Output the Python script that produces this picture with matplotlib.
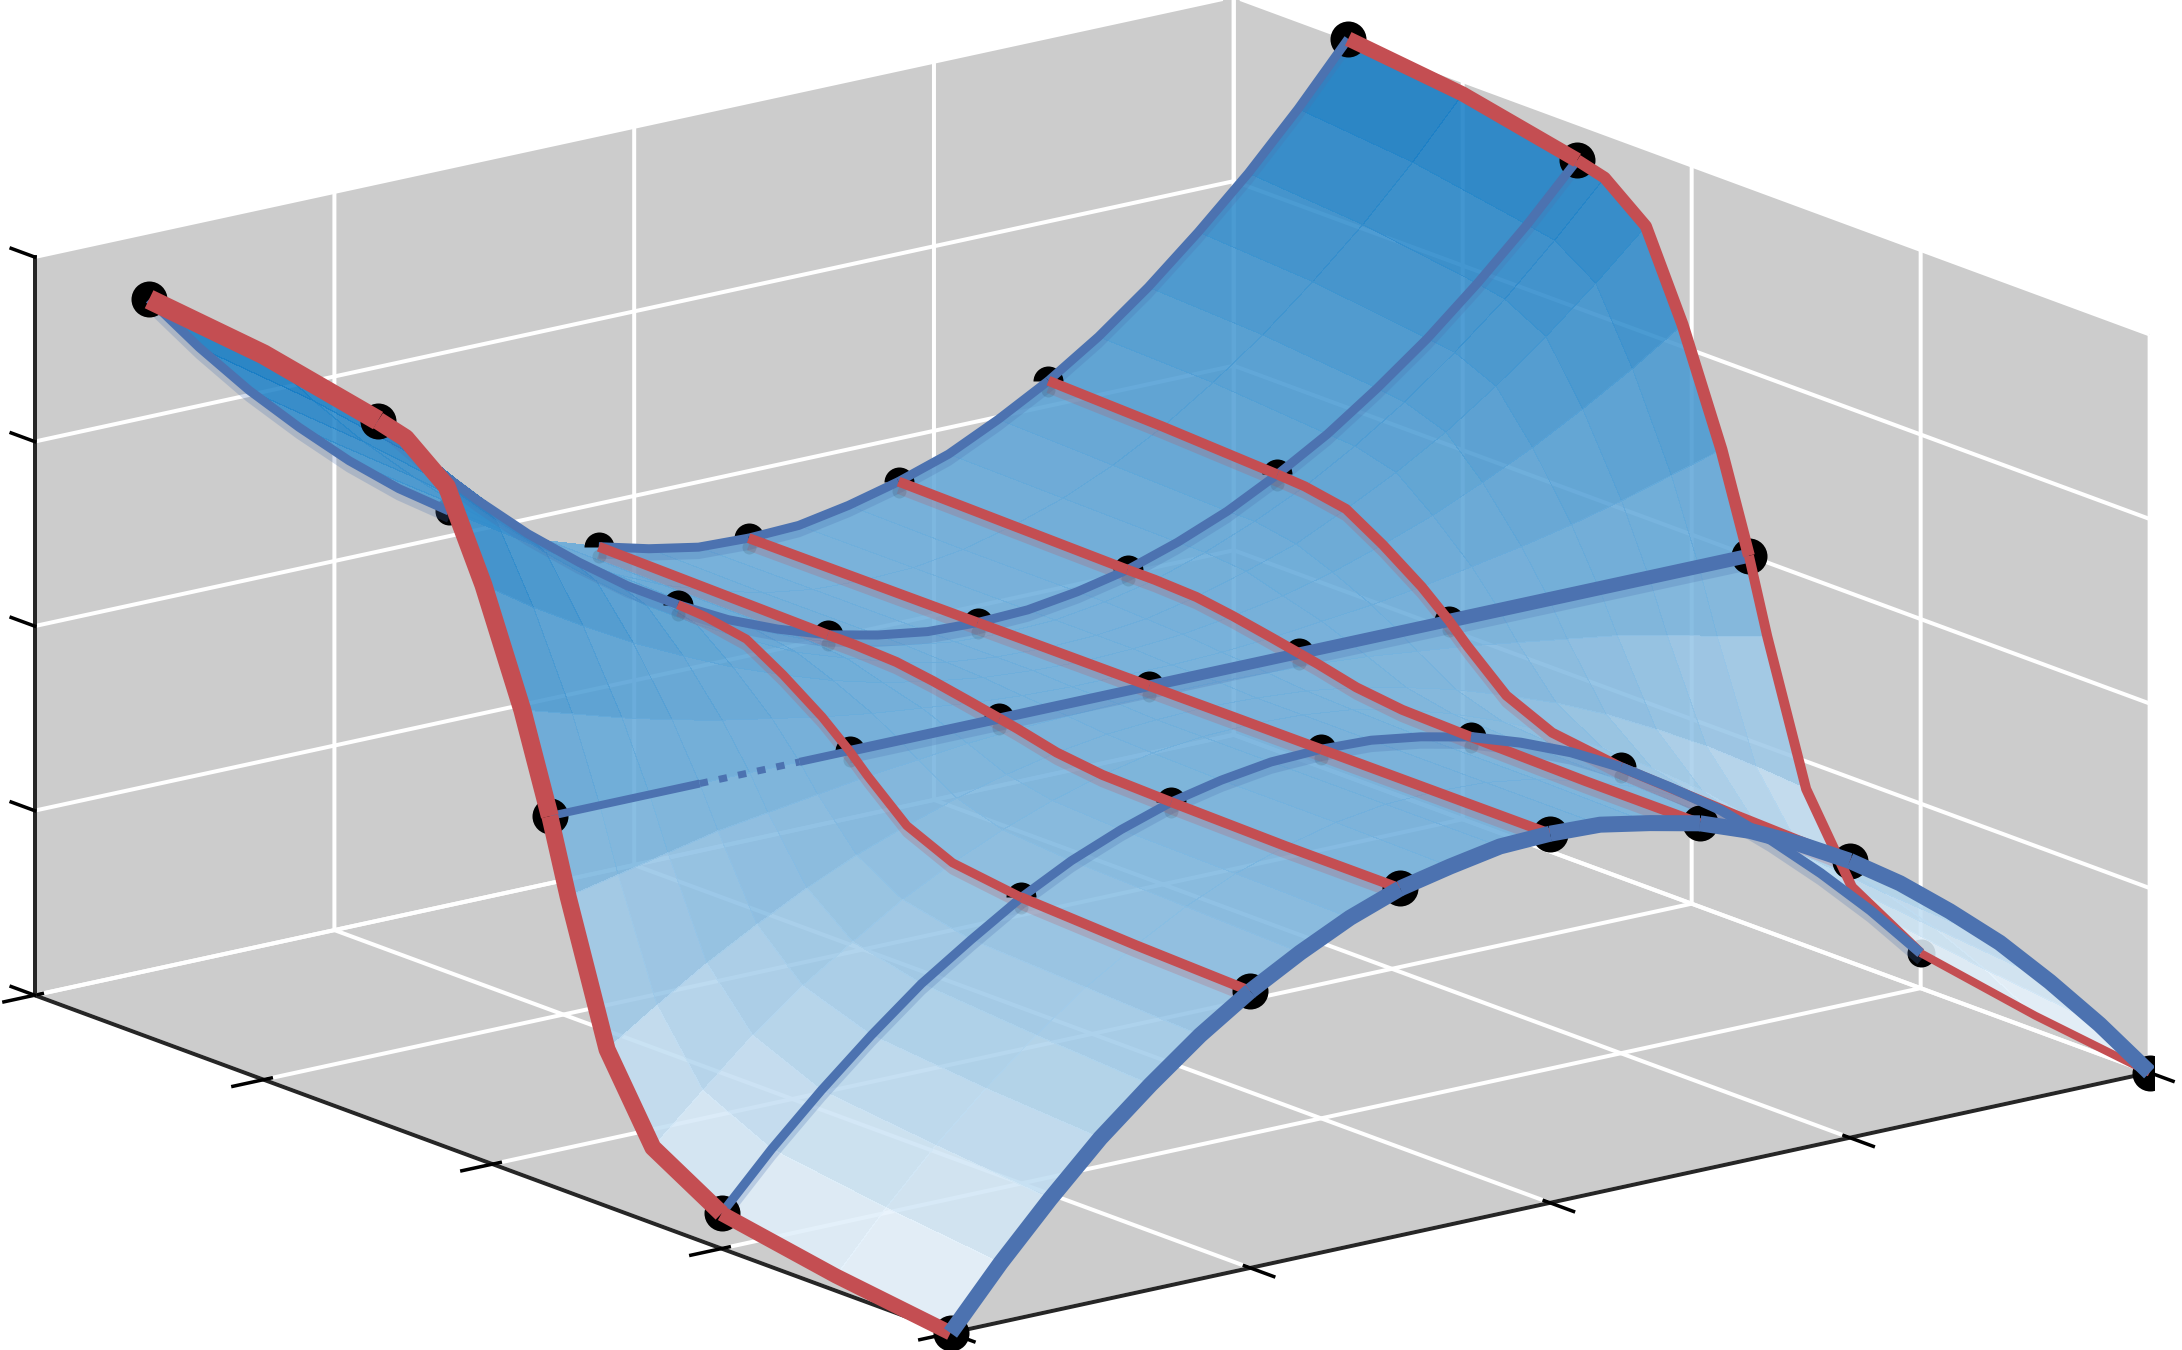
import numpy as np
import matplotlib
matplotlib.use("Agg")
import matplotlib.pyplot as plt
from matplotlib.colors import LinearSegmentedColormap
from mpl_toolkits.mplot3d import proj3d

# grid: v runs along the front-right edge, u along the front-left edge
v_grid = [0, 0.167, 0.333, 0.5, 0.667, 0.833, 1, 1.167, 1.333, 1.5, 1.667, 1.833, 2,
          2.167, 2.333, 2.5, 2.667, 2.833, 3, 3.167, 3.333, 3.5, 3.667, 3.833, 4]
u_grid = [0, 0.5, 1, 1.3, 1.5, 1.67, 1.75, 1.87, 2.04, 2.2, 2.38, 2.5, 3, 3.5]

z_u000 = [0.00, 0.32, 0.61, 0.88, 1.11, 1.32, 1.50, 1.65, 1.78, 1.88, 1.94, 1.99, 2.00,
          1.99, 1.94, 1.88, 1.78, 1.65, 1.50, 1.32, 1.11, 0.88, 0.61, 0.32, 0.00]
z_u050 = [0.08, 0.39, 0.67, 0.92, 1.15, 1.35, 1.52, 1.67, 1.79, 1.88, 1.95, 1.99, 2.00,
          1.99, 1.95, 1.88, 1.79, 1.67, 1.52, 1.35, 1.15, 0.92, 0.67, 0.39, 0.08]
z_u100 = [0.19, 0.48, 0.74, 0.98, 1.20, 1.38, 1.55, 1.69, 1.80, 1.89, 1.95, 1.99, 2.00,
          1.99, 1.95, 1.89, 1.80, 1.69, 1.55, 1.38, 1.20, 0.98, 0.74, 0.48, 0.19]
z_u130 = [0.41, 0.66, 0.90, 1.11, 1.29, 1.46, 1.60, 1.72, 1.82, 1.90, 1.96, 1.99, 2.00,
          1.99, 1.96, 1.90, 1.82, 1.72, 1.60, 1.46, 1.29, 1.11, 0.90, 0.66, 0.41]
z_u150 = [0.85, 1.03, 1.20, 1.35, 1.49, 1.61, 1.71, 1.80, 1.87, 1.93, 1.97, 1.99, 2.00,
          1.99, 1.97, 1.93, 1.87, 1.80, 1.71, 1.61, 1.49, 1.35, 1.20, 1.03, 0.85]
z_u167 = [1.60, 1.66, 1.72, 1.78, 1.82, 1.86, 1.90, 1.93, 1.96, 1.98, 1.99, 2.00, 2.00,
          2.00, 1.99, 1.98, 1.96, 1.93, 1.90, 1.86, 1.82, 1.78, 1.72, 1.66, 1.60]
z_u175 = [2.00, 2.00, 2.00, 2.00, 2.00, 2.00, 2.00, 2.00, 2.00, 2.00, 2.00, 2.00, 2.00,
          2.00, 2.00, 2.00, 2.00, 2.00, 2.00, 2.00, 2.00, 2.00, 2.00, 2.00, 2.00]
z_u187 = [2.52, 2.44, 2.36, 2.29, 2.23, 2.18, 2.13, 2.09, 2.06, 2.03, 2.01, 2.00, 2.00,
          2.00, 2.01, 2.03, 2.06, 2.09, 2.13, 2.18, 2.23, 2.29, 2.36, 2.44, 2.52]
z_u204 = [3.12, 2.94, 2.78, 2.63, 2.50, 2.38, 2.28, 2.19, 2.12, 2.07, 2.03, 2.01, 2.00,
          2.01, 2.03, 2.07, 2.12, 2.19, 2.28, 2.38, 2.50, 2.63, 2.78, 2.94, 3.12]
z_u220 = [3.58, 3.33, 3.10, 2.89, 2.70, 2.54, 2.40, 2.27, 2.18, 2.10, 2.04, 2.01, 2.00,
          2.01, 2.04, 2.10, 2.18, 2.27, 2.40, 2.54, 2.70, 2.89, 3.10, 3.33, 3.58]
z_u238 = [3.76, 3.48, 3.22, 2.99, 2.78, 2.60, 2.44, 2.31, 2.20, 2.11, 2.05, 2.01, 2.00,
          2.01, 2.05, 2.11, 2.20, 2.31, 2.44, 2.60, 2.78, 2.99, 3.22, 3.48, 3.76]
z_u250 = [3.80, 3.51, 3.25, 3.01, 2.80, 2.61, 2.45, 2.31, 2.20, 2.11, 2.05, 2.01, 2.00,
          2.01, 2.05, 2.11, 2.20, 2.31, 2.45, 2.61, 2.80, 3.01, 3.25, 3.51, 3.80]
z_u300 = [3.93, 3.62, 3.34, 3.09, 2.86, 2.66, 2.48, 2.33, 2.21, 2.12, 2.05, 2.01, 2.00,
          2.01, 2.05, 2.12, 2.21, 2.33, 2.48, 2.66, 2.86, 3.09, 3.34, 3.62, 3.93]
z_u350 = [4.00, 3.68, 3.39, 3.13, 2.89, 2.68, 2.50, 2.35, 2.22, 2.13, 2.06, 2.01, 2.00,
          2.01, 2.06, 2.13, 2.22, 2.35, 2.50, 2.68, 2.89, 3.13, 3.39, 3.68, 4.00]

# where the drawn curves sit in the grid
u_knots = [0, 2, 6, 11, 13]
v_knots = [0, 6, 9, 12, 15, 18, 24]

blue = "#4c72b0"
red = "#c44e52"
dark = "#262626"
px = 0.72  # dpi 100

Z = np.array([z_u000, z_u050, z_u100, z_u130, z_u150, z_u167, z_u175, z_u187,
              z_u204, z_u220, z_u238, z_u250, z_u300, z_u350])
V, U = np.meshgrid(v_grid, u_grid)

fig = plt.figure(figsize=(21.82, 13.5), dpi=100)
ax = fig.add_axes([0, (1350 - 2182) / 2 / 1350, 1, 2182 / 1350], projection="3d")
ax.set_proj_type("ortho")
ax.view_init(elev=16.44, azim=-127.5)
ax.computed_zorder = False
ax.patch.set_visible(False)
ax.set_xlim(0, 4, view_margin=0)
ax.set_ylim(0, 4, view_margin=0)
ax.set_zlim(0, 4, view_margin=0)
ax.set_xticks([0, 1, 2, 3, 4])
ax.set_yticks([0, 1, 2, 3, 4])
ax.set_zticks([0, 1, 2, 3, 4])
ax.set_xticklabels([])
ax.set_yticklabels([])
ax.set_zticklabels([])

for axis in (ax.xaxis, ax.yaxis, ax.zaxis):
    axis.set_pane_color("#cccccc")
    axis.pane.set_edgecolor("#cccccc")
    axis.line.set_color(dark)
    axis.line.set_linewidth(4 * px)
    axis._axinfo["grid"].update(color="white", linewidth=4 * px)
    axis._axinfo["tick"].update(color=dark, inward_factor=0.32, outward_factor=0.08,
                                linewidth={True: 3.5 * px, False: 3.5 * px})
ax.zaxis.set_ticks_position("upper")
ax.zaxis._get_tickdir = lambda position: 1  # z ticks run along the left-hand floor edge
ax.zaxis._axinfo["tick"].update(inward_factor=0.0, outward_factor=0.32)

# faces coloured by their mean height
cmap = LinearSegmentedColormap.from_list("face", ["#f2f9ff", "#6fafdc", "#0d78c3"])
cell = (Z[:-1, :-1] + Z[1:, :-1] + Z[:-1, 1:] + Z[1:, 1:]) / 4
colors = cmap(cell / 4)
colors[..., 3] = 0.88
ax.plot_surface(V, U, Z, facecolors=colors, shade=False, rstride=1, cstride=1,
                linewidth=0, antialiased=False, zorder=2)


def span(xs, ys, zs, color, width, zorder, alpha=1.0, **kw):
    ax.plot(xs, ys, zs, color=color, lw=width * px, zorder=zorder, alpha=alpha,
            solid_capstyle="butt", solid_joinstyle="round", **kw)


# blue curves along v: one width per knot span
blue_widths = {0: [16, 16, 16, 16, 16, 16],
               2: [9, 9, 9, 9, 10, 10],
               6: [None, 10, 10, 11, 12, 14],
               11: [9, 9, 9, 9, 9, 9],
               13: [9, None, 9, 9, 9, 9]}
# red curves along u
red_widths = {0: [15, 17, 18, 20],
              6: [10, 9, 9, None],
              9: [10, 10, 10, 10],
              12: [10, 10, 10, 10],
              15: [10, 10, 10, 10],
              18: [10, 10, 10, 10],
              24: [8, 10, 12, 15]}

for row, widths in blue_widths.items():
    for k, w in enumerate(widths):
        if w is None:
            continue
        a, b = v_knots[k], v_knots[k + 1] + 1
        if row != 0:
            span(V[row, a:b], U[row, a:b], Z[row, a:b] - 0.04, blue, w, 3, 0.25)
        order = 7 if row == 0 else 6.5 if row == 2 and k > 3 else 5
        span(V[row, a:b], U[row, a:b], Z[row, a:b], blue, w, order)

# the middle curve sinks into the surface near its left end
row = 6
span(V[row, 0:4], U[row, 0:4], Z[row, 0:4], blue, 8, 5)
ax.plot(V[row, 3:6], U[row, 3:6], Z[row, 3:6], color=blue, lw=7 * px, zorder=5,
        linestyle=(0, (1.2, 1.6)))
span(V[row, 5:7], U[row, 5:7], Z[row, 5:7], blue, 8, 5)

for col, widths in red_widths.items():
    for k, w in enumerate(widths):
        if w is None:
            continue
        a, b = u_knots[k], u_knots[k + 1] + 1
        if col not in (0, 24):
            span(V[a:b, col], U[a:b, col], Z[a:b, col] - 0.04, red, w, 3, 0.22)
        span(V[a:b, col], U[a:b, col], Z[a:b, col], red, w, 6)

# control points: whole on the rim, upper half above the surface inside
for row in u_knots:
    for col in v_knots:
        x, y, z = V[row, col], U[row, col], Z[row, col]
        rim = row == 0 or col in (0, 24)
        if (row, col) in ((13, 6), (2, 24)):
            ax.plot([x], [y], [z], "o", color="k", ms=28 * px, mew=0, zorder=1)
        elif rim:
            ax.plot([x], [y], [z], "o", color="k", ms=36 * px, mew=0, zorder=4)
        else:
            ax.plot([x], [y], [z], "o", color="k", ms=30 * px, mew=0, zorder=4, fillstyle="top",
                    markerfacecoloralt="none")
            ax.plot([x], [y], [z - 0.05], "o", color="k", ms=14 * px, mew=0, zorder=3, alpha=0.1)


# fit the box onto the corners measured in the reference (pixels, y down)
def corner(x, y, z):
    xs, ys, _ = proj3d.proj_transform(x, y, z, ax.get_proj())
    p = ax.transData.transform((xs, ys))
    return p[0], 1350 - p[1]


zoom = 1.0
for i in range(4):
    ax.set_box_aspect((1086, 1081, 553), zoom=zoom)
    ax.apply_aspect()
    left = corner(0, 4, 0)
    right = corner(4, 0, 0)
    zoom *= (2150 - 35) / (right[0] - left[0])
ax.set_box_aspect((1086, 1081, 553), zoom=zoom)
ax.apply_aspect()
front = corner(0, 0, 0)
pos = ax.get_position(original=True)
ax.set_position([pos.x0 + (950.5 - front[0]) / 2182, pos.y0 - (1333 - front[1]) / 1350,
                 pos.width, pos.height])

fig.savefig("out.png", dpi=100)
